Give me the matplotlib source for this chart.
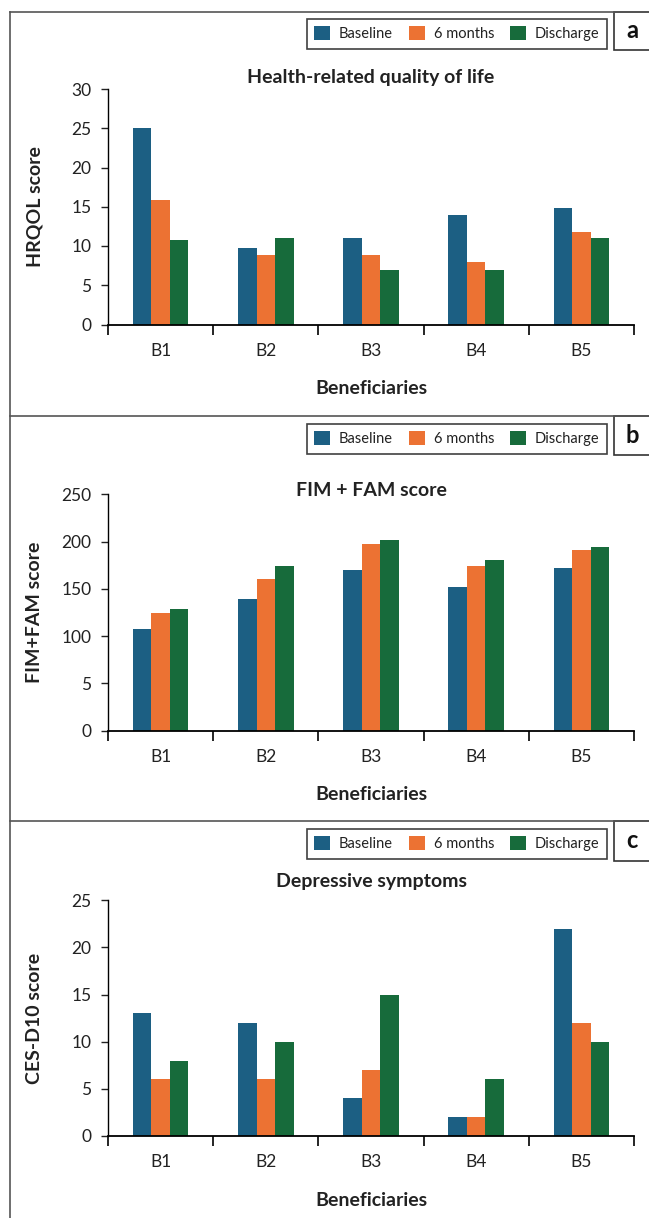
import matplotlib
matplotlib.use("Agg")
import matplotlib.pyplot as plt
from matplotlib.lines import Line2D
from matplotlib.patches import Patch, Rectangle
import numpy as np

plt.rcParams['font.family'] = ['Lato', 'DejaVu Sans']

# data
beneficiaries = ["B1", "B2", "B3", "B4", "B5"]
series_names = ["Baseline", "6 months", "Discharge"]
colors = ["#1c5f83", "#ec7233", "#176b3b"]

hrqol_baseline = [25, 9.8, 11, 13.9, 14.9]
hrqol_6m = [15.9, 8.9, 8.9, 8.0, 11.8]
hrqol_discharge = [10.8, 11, 7, 7, 11]

fim_baseline = [107.5, 139.5, 170, 152, 172.5]
fim_6m = [124.5, 160.5, 197.5, 174.5, 191]
fim_discharge = [128.5, 174.5, 202, 180.5, 194.5]

ces_baseline = [13, 12, 4, 2, 22]
ces_6m = [6, 6, 7, 2, 12]
ces_discharge = [8, 10, 15, 6, 10]

hrqol_ticks = [0, 5, 10, 15, 20, 25, 30]
fim_ticks = [0, 50, 100, 150, 200, 250]
fim_ticklabels = ["0", "5", "100", "150", "200", "250"]  # as printed in the original
ces_ticks = [0, 5, 10, 15, 20, 25]

W, H = 649, 1218
fig = plt.figure(figsize=(W / 100, H / 100), dpi=100)


def fx(px):
    return px / W


def fy(py):
    return 1 - py / H


panels = [
    dict(letter="a", title="Health-related quality of life", ylabel="HRQOL score",
         data=[hrqol_baseline, hrqol_6m, hrqol_discharge], ticks=hrqol_ticks,
         ticklabels=None, top=89, bottom=324.5, title_y=77,
         frame_y=12, leg_top=19, leg_bot=50),
    dict(letter="b", title="FIM + FAM score", ylabel="FIM+FAM score",
         data=[fim_baseline, fim_6m, fim_discharge], ticks=fim_ticks,
         ticklabels=fim_ticklabels, top=494.3, bottom=730.7, title_y=491,
         frame_y=416, leg_top=424, leg_bot=455),
    dict(letter="c", title="Depressive symptoms", ylabel="CES-D10 score",
         data=[ces_baseline, ces_6m, ces_discharge], ticks=ces_ticks,
         ticklabels=None, top=900.3, bottom=1136, title_y=882,
         frame_y=821, leg_top=829, leg_bot=861),
]

x = np.arange(len(beneficiaries))
bw = 0.176
ax_left, ax_right = 108, 634
frame_color = "#555555"
text_color = "#222222"

for p in panels:
    h = p["bottom"] - p["top"]
    ax = fig.add_axes([fx(ax_left), fy(p["bottom"]), fx(ax_right - ax_left), h / H])
    for i, vals in enumerate(p["data"]):
        ax.bar(x + (i - 1) * bw, vals, width=bw, color=colors[i], label=series_names[i])

    ax.set_xlim(-0.5, len(beneficiaries) - 0.5)
    ax.set_ylim(p["ticks"][0], p["ticks"][-1])
    ax.set_yticks(p["ticks"])
    if p["ticklabels"] is not None:
        ax.set_yticklabels(p["ticklabels"])
    ax.set_xticks(x)
    ax.set_xticklabels(beneficiaries)
    ax.set_xticks(np.arange(len(beneficiaries) + 1) - 0.5, minor=True)
    ax.tick_params(axis="x", which="major", length=0, pad=13, labelsize=12.5, colors=text_color)
    ax.tick_params(axis="x", which="minor", length=7, width=1.2, direction="out")
    ax.tick_params(axis="y", length=5, width=1, pad=7, labelsize=12.5, colors=text_color)
    for s in ["top", "right"]:
        ax.spines[s].set_visible(False)
    ax.spines["left"].set_linewidth(1.0)
    ax.spines["bottom"].set_linewidth(1.3)

    # axis labels
    ax.set_xlabel("Beneficiaries", fontsize=14, fontweight="bold", color=text_color)
    ax.xaxis.set_label_coords(0.5, -64 / h)
    ax.xaxis.label.set_va("center")
    ax.set_ylabel(p["ylabel"], fontsize=14, fontweight="bold", color=text_color)
    ax.yaxis.set_label_coords((35 - ax_left) / (ax_right - ax_left), 0.5)
    ax.yaxis.label.set_va("center")

    # chart title
    ax.text(0.5, 1 + (p["top"] - p["title_y"]) / h, p["title"],
            transform=ax.transAxes, ha="center", va="center", fontsize=14,
            fontweight="bold", color=text_color)

    # legend box
    handles = [Patch(facecolor=c, edgecolor="none") for c in colors]
    leg = fig.legend(handles, series_names, loc="upper right",
                     bbox_to_anchor=(fx(607), fy(p["leg_top"])), ncol=3,
                     frameon=True, fancybox=False, edgecolor="#111111",
                     fontsize=10.5, handlelength=1.1, handleheight=1.1,
                     handletextpad=0.6, columnspacing=1.1, borderpad=0.5,
                     borderaxespad=0)
    leg.get_frame().set_linewidth(1.2)
    for t in leg.get_texts():
        t.set_color(text_color)

    # panel letter box
    fig.add_artist(Rectangle((fx(614), fy(p["leg_bot"])), fx(40),
                             (p["leg_bot"] - p["frame_y"]) / H, transform=fig.transFigure,
                             facecolor="white", edgecolor="#333333", linewidth=1.2))
    fig.text(fx(632), fy((p["frame_y"] + p["leg_bot"]) / 2), p["letter"],
             ha="center", va="center", fontsize=17, fontweight="bold", color="#111111")

    # frame line above each panel
    fig.add_artist(Line2D([fx(10), 1], [fy(p["frame_y"]), fy(p["frame_y"])],
                          transform=fig.transFigure, color=frame_color, linewidth=1.2))

fig.add_artist(Line2D([fx(10), fx(10)], [fy(12), 0], transform=fig.transFigure,
                      color=frame_color, linewidth=1.2))

fig.savefig("out.png", dpi=100)
